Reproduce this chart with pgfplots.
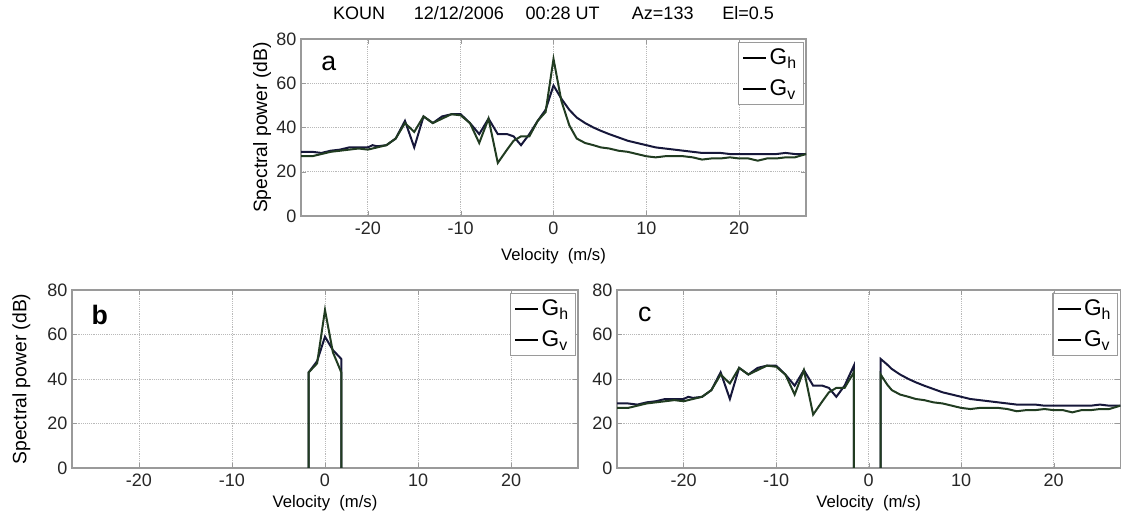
\documentclass[border=0pt]{standalone}
\usepackage{fontspec}
\setmainfont{Liberation Sans}
\usepackage{pgfplots}
\pgfplotsset{compat=1.18}
\definecolor{ghcol}{HTML}{16173A}
\definecolor{gvcol}{HTML}{213C21}
\definecolor{boxgray}{HTML}{9A9A9A}

% spectra, velocity (m/s) vs power (dB)
\def\ghfull{(-27.2,29) (-26,29) (-25,28.5) (-24,29.5) (-23,30) (-22,31) (-21,31) (-20,31) (-19.5,32) (-19,31.5) (-18,32) (-17,35) (-16,43) (-15,31) (-14,45) (-13,42) (-12,45) (-11,46) (-10,46) (-9,42) (-8,37) (-7,44) (-6,37) (-5,37) (-4.3,36) (-3.5,32) (-2.6,37) (-1.7,43) (-0.85,48) (0,59) (0.85,53) (1.7,48) (2.5,44.5) (3.4,42) (4.3,40) (5.1,38.5) (6,37) (7,35.5) (8,34) (9,33) (10,32) (11,31) (12,30.5) (13,30) (14,29.5) (15,29) (16,28.5) (17,28.5) (18,28.5) (19,28) (20,28) (21,28) (22,28) (23,28) (24,28) (25,28.5) (26,28) (27.2,28)}
\def\gvfull{(-27.2,27) (-26,27) (-25,28) (-24,29) (-23,29.5) (-22,30) (-21,30.5) (-20,30) (-19,31) (-18,32) (-17,35) (-16,42) (-15,38) (-14,45) (-13,42) (-12,44) (-11,46) (-10,45.5) (-9,42) (-8,33) (-7,44) (-6,24) (-5,30) (-4.3,34) (-3.5,36) (-2.6,36) (-1.7,43) (-0.85,47) (0,71) (0.85,52) (1.7,41) (2.5,35) (3.4,33) (4.3,32) (5.1,31) (6,30.5) (7,29.5) (8,29) (9,28) (10,27) (11,26.5) (12,27) (13,27) (14,27) (15,26.5) (16,25.5) (17,26) (18,26) (19,26.5) (20,26) (21,26) (22,25) (23,26) (24,26) (25,26.5) (26,26.5) (27.2,28)}

\pgfplotsset{
  panel/.style={
    scale only axis, anchor=north west,
    xmin=-27.2, xmax=27.2, ymin=0, ymax=80,
    xtick={-20,-10,...,20}, ytick={0,20,...,80},
    grid=major,
    major grid style={densely dotted, gray!55, line width=0.6pt},
    axis line style={boxgray, line width=1pt},
    tick style={boxgray}, tick align=inside, major tick length=4pt,
    ticklabel style={font=\fontsize{13.5}{15}\selectfont, text=black!85},
    xticklabel style={yshift=-1pt},
    /pgf/number format/assume math mode=true,
    xlabel={Velocity\ \ (m/s)},
    xlabel style={font=\fontsize{12.5}{14}\selectfont, anchor=center},
    ylabel style={font=\fontsize{14.5}{16}\selectfont, anchor=center, rotate=0},
    legend style={draw=boxgray, line width=0.8pt, at={(0.996,0.985)}, anchor=north east,
      font=\fontsize{17}{19}\selectfont, row sep=6pt, inner sep=3pt},
    legend image code/.code={\draw[black, line width=1.2pt] (0cm,0cm) -- (0.6cm,0cm);},
    legend cell align=left,
  },
  gh/.style={ghcol, line width=1.5pt},
  gv/.style={gvcol, line width=1.5pt},
}

\begin{document}
\begin{tikzpicture}
\path[use as bounding box] (0,0) rectangle (841.5pt,-392.25pt);

% panel a
\begin{axis}[panel, at={(225.75pt,-29.25pt)}, width=378.75pt, height=132.75pt,
  title={KOUN\hspace{1.6em}12/12/2006\hspace{1.2em}00:28 UT\hspace{1.8em}Az=133\hspace{1.6em}El=0.5},
  title style={font=\fontsize{13.5}{15}\selectfont, yshift=5pt},
  ylabel={Spectral power (dB)},
  ylabel style={at={(axis description cs:-0.077,0.5)}},
  xlabel style={at={(axis description cs:0.5,-0.225)}}]
\addplot[gh] coordinates {\ghfull};
\addplot[gv] coordinates {\gvfull};
\legend{G\textsubscript{h},G\textsubscript{v}}
\node[font=\fontsize{20}{22}\selectfont] at (rel axis cs:0.055,0.86) {a};
\end{axis}

% panel b
\begin{axis}[panel, at={(54pt,-217.5pt)}, width=379.5pt, height=133.5pt,
  ylabel={Spectral power (dB)},
  ylabel style={at={(axis description cs:-0.1,0.5)}},
  xlabel style={at={(axis description cs:0.5,-0.195)}}]
\addplot[gh] coordinates {(-1.75,0) (-1.75,43) (-0.85,48) (0,59) (0.85,53) (1.75,49) (1.75,0)};
\addplot[gv] coordinates {(-1.75,0) (-1.75,43) (-0.85,47) (0,71) (0.85,52) (1.75,43) (1.75,0)};
\legend{G\textsubscript{h},G\textsubscript{v}}
\node[font=\bfseries\fontsize{20}{22}\selectfont] at (rel axis cs:0.055,0.86) {b};
\end{axis}

% panel c
\begin{axis}[panel, at={(462.75pt,-217.5pt)}, width=377.5pt, height=133.5pt,
  xlabel style={at={(axis description cs:0.5,-0.195)}}]
\addplot[gh] coordinates {(-27.2,29) (-26,29) (-25,28.5) (-24,29.5) (-23,30) (-22,31) (-21,31) (-20,31) (-19.5,32) (-19,31.5) (-18,32) (-17,35) (-16,43) (-15,31) (-14,45) (-13,42) (-12,45) (-11,46) (-10,46) (-9,42) (-8,37) (-7,44) (-6,37) (-5,37) (-4.3,36) (-3.5,32) (-2.6,37) (-1.6,46) (-1.6,0)};
\addplot[gv] coordinates {(-27.2,27) (-26,27) (-25,28) (-24,29) (-23,29.5) (-22,30) (-21,30.5) (-20,30) (-19,31) (-18,32) (-17,35) (-16,42) (-15,38) (-14,45) (-13,42) (-12,44) (-11,46) (-10,45.5) (-9,42) (-8,33) (-7,44) (-6,24) (-5,30) (-4.3,34) (-3.5,36) (-2.6,36) (-1.6,43) (-1.6,0)};
\addplot[gh, forget plot] coordinates {(1.3,0) (1.3,49) (2,46.5) (2.5,44.5) (3.4,42) (4.3,40) (5.1,38.5) (6,37) (7,35.5) (8,34) (9,33) (10,32) (11,31) (12,30.5) (13,30) (14,29.5) (15,29) (16,28.5) (17,28.5) (18,28.5) (19,28) (20,28) (21,28) (22,28) (23,28) (24,28) (25,28.5) (26,28) (27.2,28)};
\addplot[gv, forget plot] coordinates {(1.3,0) (1.3,42) (2,37.5) (2.5,35) (3.4,33) (4.3,32) (5.1,31) (6,30.5) (7,29.5) (8,29) (9,28) (10,27) (11,26.5) (12,27) (13,27) (14,27) (15,26.5) (16,25.5) (17,26) (18,26) (19,26.5) (20,26) (21,26) (22,25) (23,26) (24,26) (25,26.5) (26,26.5) (27.2,28)};
\legend{G\textsubscript{h},G\textsubscript{v}}
\node[font=\fontsize{20}{22}\selectfont] at (rel axis cs:0.055,0.86) {c};
\end{axis}
\end{tikzpicture}
\end{document}
